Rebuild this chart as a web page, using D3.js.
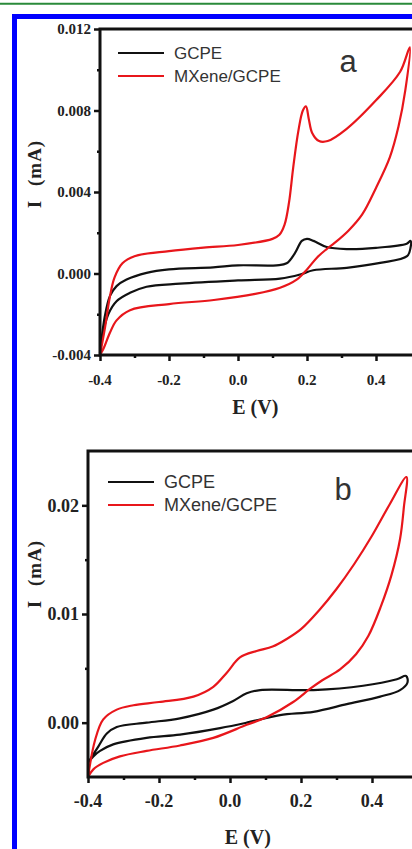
<!DOCTYPE html>
<html>
<head>
<meta charset="utf-8">
<script src="https://cdn.jsdelivr.net/npm/d3@7"></script>
<style>
  html, body { margin: 0; padding: 0; background: #fff; }
  svg { display: block; }
  .tick-label { font-family: "Liberation Serif", "Times New Roman", serif; font-weight: bold; fill: #222; }
  .axis-title { font-family: "Liberation Serif", "Times New Roman", serif; font-weight: bold; fill: #222; }
  .legend-text { font-family: "Liberation Sans", Arial, sans-serif; fill: #333; }
</style>
</head>
<body>
<div id="chart"></div>
<script>
// Datos (E en V, I en mA)
var seriesNames = ["GCPE", "MXene/GCPE"];
var seriesColors = ["#111111", "#e8161b"];
var panelLetters = ["a", "b"];
var xTicks = [-0.4, -0.2, 0.0, 0.2, 0.4];
var xTickLabels = ["-0.4", "-0.2", "0.0", "0.2", "0.4"];
var xMinorTicks = [-0.3, -0.1, 0.1, 0.3];

var aYTicks = [0.012, 0.008, 0.004, 0.000, -0.004];
var aYTickLabels = ["0.012", "0.008", "0.004", "0.000", "-0.004"];
var aYMinorTicks = [0.010, 0.006, 0.002, -0.002];

var bYTicks = [0.02, 0.01, 0.00];
var bYTickLabels = ["0.02", "0.01", "0.00"];
var bYMinorTicks = [0.015, 0.005];

// Panel a - GCPE (barrido de ida y vuelta)
var aGcpe = [
  [-0.4, -0.0039], [-0.386, -0.0021], [-0.371, -0.0011], [-0.352, -0.00062], [-0.323, -0.0003],
  [-0.265, 0.00003], [-0.2, 0.0002], [-0.072, 0.0003], [0.0, 0.0004], [0.112, 0.0004],
  [0.141, 0.0005], [0.165, 0.001], [0.185, 0.0016], [0.2, 0.0017], [0.219, 0.0016],
  [0.257, 0.0013], [0.315, 0.0012], [0.4, 0.00126], [0.489, 0.00146], [0.5, 0.0016],
  [0.5, 0.00126], [0.49, 0.00085], [0.412, 0.00052], [0.315, 0.00028], [0.218, 0.00016],
  [0.18, -0.00005], [0.122, -0.00025], [0.0, -0.00034], [-0.168, -0.0005], [-0.265, -0.00065],
  [-0.313, -0.00095], [-0.352, -0.00136], [-0.376, -0.002], [-0.395, -0.0032], [-0.4, -0.0039]
];

// Panel a - MXene/GCPE
var aMxene = [
  [-0.4, -0.004], [-0.385, -0.0026], [-0.372, -0.0012], [-0.358, -0.0002], [-0.335, 0.0005],
  [-0.3, 0.00085], [-0.2, 0.0011], [-0.1, 0.00127], [0.0, 0.0014], [0.1, 0.0017],
  [0.12, 0.0019], [0.135, 0.0024], [0.148, 0.0035], [0.16, 0.0052], [0.175, 0.007],
  [0.188, 0.008], [0.197, 0.0082], [0.205, 0.0076], [0.215, 0.0069], [0.235, 0.0065],
  [0.26, 0.0065], [0.315, 0.0071], [0.4, 0.0085], [0.47, 0.0099], [0.498, 0.0111],
  [0.485, 0.009], [0.465, 0.0072], [0.44, 0.0057], [0.4, 0.0042], [0.36, 0.0029],
  [0.32, 0.0021], [0.28, 0.0015], [0.257, 0.0012], [0.23, 0.0008], [0.2, 0.0002],
  [0.17, -0.0003], [0.122, -0.0007], [0.05, -0.001], [-0.07, -0.0013], [-0.2, -0.0015],
  [-0.313, -0.0018], [-0.352, -0.0023], [-0.371, -0.0029], [-0.39, -0.0037], [-0.4, -0.004]
];

// Panel b - GCPE
var bGcpe = [
  [-0.4, -0.0037], [-0.371, -0.0022], [-0.347, -0.001], [-0.319, -0.0004], [-0.235, 0.0],
  [-0.141, 0.0004], [-0.047, 0.0012], [0.009, 0.002], [0.047, 0.0027], [0.085, 0.003],
  [0.235, 0.003], [0.375, 0.0034], [0.47, 0.004], [0.496, 0.0043],
  [0.5, 0.0037], [0.479, 0.003], [0.423, 0.0024], [0.329, 0.0017], [0.235, 0.001],
  [0.141, 0.0007], [0.047, 0.0], [-0.028, -0.0005], [-0.141, -0.0011], [-0.235, -0.0014],
  [-0.329, -0.002], [-0.366, -0.0026], [-0.385, -0.0031], [-0.4, -0.0037]
];

// Panel b - MXene/GCPE
var bMxene = [
  [-0.4, -0.005], [-0.38, -0.0016], [-0.357, 0.0003], [-0.319, 0.0012], [-0.272, 0.0016],
  [-0.2, 0.0019], [-0.103, 0.0024], [-0.047, 0.0033], [-0.009, 0.0046], [0.028, 0.006],
  [0.075, 0.0066], [0.12, 0.007], [0.16, 0.0077], [0.2, 0.0086], [0.25, 0.0103],
  [0.3, 0.0123], [0.35, 0.0146], [0.4, 0.0172], [0.45, 0.0201], [0.497, 0.0226],
  [0.49, 0.0199], [0.479, 0.0169], [0.455, 0.0136], [0.425, 0.0107], [0.39, 0.008],
  [0.355, 0.0063], [0.31, 0.0049], [0.26, 0.0039], [0.225, 0.0031], [0.178, 0.0019],
  [0.103, 0.0005], [0.047, -0.0002], [-0.047, -0.0014], [-0.141, -0.0021], [-0.235, -0.0026],
  [-0.31, -0.0031], [-0.357, -0.0037], [-0.385, -0.0043], [-0.4, -0.005]
];

var width = 412, height = 849;

var svg = d3.select("#chart").append("svg")
    .attr("width", width)
    .attr("height", height);

// Línea verde superior y marco azul
svg.append("line")
    .attr("x1", 0).attr("x2", width)
    .attr("y1", 3.8).attr("y2", 3.8)
    .attr("stroke", "#2a8a3a").attr("stroke-width", 2);

svg.append("rect")
    .attr("x", 14.5).attr("y", 16.5)
    .attr("width", 420).attr("height", 860)
    .attr("fill", "none")
    .attr("stroke", "#0000ff").attr("stroke-width", 5);

// Función para dibujar un panel
function drawPanel(p) {
    var g = svg.append("g");
    var x = d3.scaleLinear().domain([-0.4, 0.5]).range([p.left, p.right]);
    var y = d3.scaleLinear().domain(p.yDomain).range([p.bottom, p.top]);

    // curvas
    var line = d3.line()
        .x(function (d) { return x(d[0]); })
        .y(function (d) { return y(d[1]); })
        .curve(d3.curveCatmullRom.alpha(0.5));

    p.curves.forEach(function (c, i) {
        g.append("path")
            .datum(c)
            .attr("d", line)
            .attr("fill", "none")
            .attr("stroke", seriesColors[i])
            .attr("stroke-width", 2.2)
            .attr("stroke-linejoin", "round");
    });

    // ejes
    var xAxis = d3.axisBottom(x).tickValues(xTicks).tickSize(6).tickFormat("");
    var xMinor = d3.axisBottom(x).tickValues(xMinorTicks).tickSize(3).tickFormat("");
    var yAxis = d3.axisLeft(y).tickValues(p.yTicks).tickSize(6).tickFormat("");
    var yMinor = d3.axisLeft(y).tickValues(p.yMinor).tickSize(3).tickFormat("");

    [g.append("g").attr("transform", "translate(0," + p.bottom + ")").call(xAxis),
     g.append("g").attr("transform", "translate(0," + p.bottom + ")").call(xMinor),
     g.append("g").attr("transform", "translate(" + p.left + ",0)").call(yAxis),
     g.append("g").attr("transform", "translate(" + p.left + ",0)").call(yMinor)]
        .forEach(function (ax) {
            ax.select(".domain").remove();
            ax.selectAll("line").attr("stroke", "#111").attr("stroke-width", 2.5);
        });

    // marco: izquierda, abajo y arriba
    g.append("path")
        .attr("d", "M" + (width + 4) + "," + p.top + "H" + p.left + "V" + p.bottom + "H" + (width + 4))
        .attr("fill", "none")
        .attr("stroke", "#111")
        .attr("stroke-width", 3);

    // etiquetas de ticks
    g.selectAll("text.xt")
        .data(xTicks)
        .enter().append("text")
        .attr("class", "tick-label")
        .attr("x", function (d) { return x(d); })
        .attr("y", p.bottom + p.xLabelOffset)
        .attr("text-anchor", "middle")
        .attr("font-size", p.tickFont + "px")
        .text(function (d, i) { return xTickLabels[i]; });

    g.selectAll("text.yt")
        .data(p.yTicks)
        .enter().append("text")
        .attr("class", "tick-label")
        .attr("x", p.left - 9)
        .attr("y", function (d) { return y(d); })
        .attr("dy", "0.35em")
        .attr("text-anchor", "end")
        .attr("font-size", p.tickFont + "px")
        .text(function (d, i) { return p.yTickLabels[i]; });

    // títulos de ejes
    g.append("text")
        .attr("class", "axis-title")
        .attr("x", (p.left + p.right) / 2)
        .attr("y", p.xTitleY)
        .attr("text-anchor", "middle")
        .attr("font-size", "20px")
        .text("E (V)");

    g.append("text")
        .attr("class", "axis-title")
        .attr("transform", "translate(" + p.yTitleX + "," + p.yTitleY + ") rotate(-90)")
        .attr("text-anchor", "middle")
        .attr("font-size", "19px")
        .attr("letter-spacing", "1px")
        .attr("word-spacing", "8px")
        .text("I (mA)");

    // leyenda
    seriesNames.forEach(function (name, i) {
        var ly = p.legendY + i * p.legendGap;
        g.append("line")
            .attr("x1", p.legendX).attr("x2", p.legendX + 46)
            .attr("y1", ly).attr("y2", ly)
            .attr("stroke", seriesColors[i]).attr("stroke-width", 2.2);
        g.append("text")
            .attr("class", "legend-text")
            .attr("x", p.legendX + 56)
            .attr("y", ly)
            .attr("dy", "0.35em")
            .attr("font-size", p.legendFont + "px")
            .text(name);
    });

    g.append("text")
        .attr("class", "legend-text")
        .attr("x", p.letterX)
        .attr("y", p.letterY)
        .attr("text-anchor", "middle")
        .attr("font-size", "31px")
        .attr("fill", "#111")
        .text(p.letter);
}

drawPanel({
    left: 100, right: 410.5, top: 29, bottom: 355,
    yDomain: [-0.004, 0.012],
    yTicks: aYTicks, yTickLabels: aYTickLabels, yMinor: aYMinorTicks,
    curves: [aGcpe, aMxene],
    tickFont: 15, xLabelOffset: 30, xTitleY: 414,
    yTitleX: 41, yTitleY: 174,
    legendX: 118, legendY: 53, legendGap: 23, legendFont: 17,
    letter: panelLetters[0], letterX: 348, letterY: 72
});

drawPanel({
    left: 88, right: 407.5, top: 451, bottom: 777,
    yDomain: [-0.005, 0.025],
    yTicks: bYTicks, yTickLabels: bYTickLabels, yMinor: bYMinorTicks,
    curves: [bGcpe, bMxene],
    tickFont: 18, xLabelOffset: 30, xTitleY: 844,
    yTitleX: 41, yTitleY: 574,
    legendX: 108, legendY: 482, legendGap: 23, legendFont: 18,
    letter: panelLetters[1], letterX: 343, letterY: 500
});
</script>
</body>
</html>
